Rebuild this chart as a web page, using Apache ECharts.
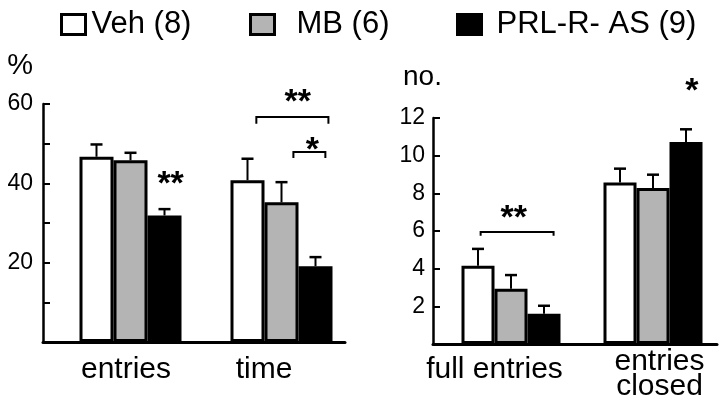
<!DOCTYPE html>
<html>
<head>
<meta charset="utf-8">
<script src="https://cdn.jsdelivr.net/npm/echarts@6/dist/echarts.min.js"></script>
<style>
  html, body { margin: 0; padding: 0; background: #fff; }
  #chart { width: 720px; height: 402px; }
</style>
</head>
<body>
<div id="chart"></div>
<script>
// ---------- data ----------
const legendNames = ['Veh (8)', 'MB (6)', 'PRL-R- AS (9)'];

const leftCategories = ['entries', 'time'];
const leftVeh = [46.7, 40.8];
const leftMB = [45.8, 35.2];
const leftPRL = [31.9, 19.1];
const leftVehSEM = [3.1, 5.4];
const leftMBSEM = [1.9, 5.1];
const leftPRLSEM = [1.6, 2.3];
const leftTicks = [0, 10, 20, 30, 40, 50, 60];
const leftTickLabels = ['', '', '20', '', '40', '', '60'];

const rightCategories = ['full entries', 'entries\nclosed'];
const rightVeh = [4.15, 8.58];
const rightMB = [2.93, 8.28];
const rightPRL = [1.6, 10.72];
const rightVehSEM = [0.9, 0.73];
const rightMBSEM = [0.73, 0.71];
const rightPRLSEM = [0.43, 0.68];
const rightTicks = [0, 2, 4, 6, 8, 10, 12];
const rightTickLabels = ['', '2', '4', '6', '8', '10', '12'];

// significance annotations: [category, fromBar, toBar, y, yEnd]
const leftBrackets = [[1, 0.76, 2.88, 56.7, 55.0], [1, 1.85, 2.79, 47.9, 46.4]];
const rightBrackets = [[0, 0.58, 2.79, 5.95, 5.75]];
// [category, bar position, y, text]
const leftStars = [[0, 2.68, 41.5, '**'], [1, 1.98, 62.2, '**'], [1, 2.41, 50.2, '*']];
const rightStars = [[0, 1.58, 7.06, '**'], [1, 2.68, 13.8, '*']];

// ---------- layout / style ----------
const FONT = '"Liberation Sans", Arial, Helvetica, sans-serif';
const colors = ['#ffffff', '#b4b4b4', '#000000'];
const panels = [
  { bw: 34, pad: 24 },
  { bw: 33, pad: 14 }
];
function barOffset(p, s) {
  const P = panels[p];
  const total = P.pad + 3 * P.bw;
  return -total / 2 + P.pad + P.bw * (s + 0.5);
}
function groupLeft(p) {
  const P = panels[p];
  return -(P.pad + 3 * P.bw) / 2 + P.pad;
}

function errData(vals, sems) {
  const out = [];
  vals.forEach((arr, s) => arr.forEach((v, c) => out.push([c, v + sems[s][c], s, v])));
  return out;
}

function errSeries(p, vals, sems) {
  return {
    type: 'custom', xAxisIndex: p, yAxisIndex: p, z: 5, silent: true,
    data: errData(vals, sems),
    encode: { x: 0, y: 1 },
    renderItem: function (params, api) {
      const c = api.value(0), top = api.value(1), s = api.value(2), v = api.value(3);
      const pt = api.coord([c, top]);
      const pb = api.coord([c, v]);
      const x = pt[0] + barOffset(p, s);
      return {
        type: 'group',
        children: [
          { type: 'line', shape: { x1: x, y1: pb[1], x2: x, y2: pt[1] }, style: { stroke: '#000', lineWidth: 2 } },
          { type: 'line', shape: { x1: x - 6, y1: pt[1], x2: x + 6, y2: pt[1] }, style: { stroke: '#000', lineWidth: 2.5 } }
        ]
      };
    }
  };
}

function bracketSeries(p, data) {
  return {
    type: 'custom', xAxisIndex: p, yAxisIndex: p, z: 6, silent: true, clip: false,
    data: data,
    encode: { x: 0, y: 3 },
    renderItem: function (params, api) {
      const c = api.value(0), a = api.value(1), b = api.value(2), y = api.value(3), ye = api.value(4);
      const p0 = api.coord([c, y]);
      const pe = api.coord([c, ye]);
      const bw = panels[p].bw;
      const x1 = p0[0] + groupLeft(p) + a * bw;
      const x2 = p0[0] + groupLeft(p) + b * bw;
      return {
        type: 'polyline',
        shape: { points: [[x1, pe[1]], [x1, p0[1]], [x2, p0[1]], [x2, pe[1]]] },
        style: { stroke: '#000', lineWidth: 2, fill: null }
      };
    }
  };
}

function starSeries(p, data) {
  return {
    type: 'custom', xAxisIndex: p, yAxisIndex: p, z: 6, silent: true, clip: false,
    data: data,
    encode: { x: 0, y: 2 },
    renderItem: function (params, api) {
      const d = data[params.dataIndex];
      const pt = api.coord([d[0], d[2]]);
      const x = pt[0] + groupLeft(p) + d[1] * panels[p].bw;
      const fs = 34;
      return {
        type: 'text',
        style: {
          x: x, y: pt[1] + fs * 0.22, text: d[3],
          font: 'bold ' + fs + 'px ' + FONT,
          fill: '#000', align: 'center', verticalAlign: 'middle'
        }
      };
    }
  };
}

function barSeries(p, name, data, s) {
  return {
    type: 'bar', name: name, xAxisIndex: p, yAxisIndex: p,
    data: data, barWidth: panels[p].bw, barGap: 0, z: 3,
    itemStyle: { color: colors[s], borderColor: '#000', borderWidth: 3 }
  };
}
function padSeries(p) {
  return {
    type: 'bar', name: '_pad' + p, xAxisIndex: p, yAxisIndex: p,
    data: [null, null], barWidth: panels[p].pad, barGap: 0, silent: true
  };
}

function yAxisCfg(grid, max, interval, ticks, labels, name, nameStyle, nameGap, margin) {
  return {
    gridIndex: grid, type: 'value', min: 0, max: max, interval: interval,
    name: name, nameLocation: 'end', nameGap: nameGap,
    nameTextStyle: nameStyle,
    axisLine: { show: true, lineStyle: { color: '#000', width: 2.5 } },
    axisTick: { show: true, inside: true, length: 7, lineStyle: { color: '#000', width: 2 } },
    splitLine: { show: false },
    axisLabel: {
      fontSize: 23, color: '#000', fontFamily: FONT, margin: margin,
      formatter: function (v) { const i = ticks.indexOf(v); return i >= 0 ? labels[i] : ''; }
    }
  };
}

function legendCfg(left, name, s, textPad) {
  return {
    left: left, top: 9, padding: 0, icon: 'rect',
    itemWidth: 24, itemHeight: 20, selectedMode: false,
    data: [{ name: name }],
    itemStyle: { borderColor: '#000', borderWidth: 3 },
    textStyle: { fontSize: 31, color: '#000', fontFamily: FONT, padding: [0, 0, 0, textPad] }
  };
}

const richLines = {
  l1: { fontSize: 30, fontFamily: FONT, color: '#000', lineHeight: 10 },
  l2: { fontSize: 30, fontFamily: FONT, color: '#000', lineHeight: 40 }
};

function catLabel(value, padding) {
  return {
    value: value,
    textStyle: { padding: padding, verticalAlign: 'top', align: 'center', fontSize: 30, lineHeight: 25, color: '#000', fontFamily: FONT, rich: richLines }
  };
}

function catFormatter(v) {
  const parts = String(v).split('\n');
  if (parts.length < 2) return v;
  return '{l1|' + parts[0] + '}\n{l2|' + parts[1] + '}';
}

const option = {
  animation: false,
  backgroundColor: '#ffffff',
  textStyle: { fontFamily: FONT, color: '#000' },
  legend: [
    legendCfg(60, legendNames[0], 0, 1),
    legendCfg(249, legendNames[1], 1, 17),
    legendCfg(456, legendNames[2], 2, 10)
  ],
  grid: [
    { left: 43, top: 104, width: 302, height: 238, outerBoundsMode: 'none', containLabel: false },
    { left: 433, top: 118, width: 284, height: 226, outerBoundsMode: 'none', containLabel: false }
  ],
  xAxis: [
    {
      gridIndex: 0, type: 'category',
      data: [
        catLabel(leftCategories[0], [0, 0, 0, 15]),
        catLabel(leftCategories[1], [0, 11, 0, 0])
      ],
      axisLine: { lineStyle: { color: '#000', width: 3 } },
      axisTick: { show: false },
      axisLabel: { interval: 0, fontSize: 30, color: '#000', fontFamily: FONT, margin: 15, lineHeight: 25 }
    },
    {
      gridIndex: 1, type: 'category',
      data: [
        catLabel(rightCategories[0], [0, 19, 0, 0]),
        catLabel(rightCategories[1], [0, 0, 0, 27])
      ],
      axisLine: { lineStyle: { color: '#000', width: 3 } },
      axisTick: { show: false },
      axisLabel: { interval: 0, fontSize: 30, color: '#000', fontFamily: FONT, margin: 13, lineHeight: 25, rich: richLines, formatter: catFormatter }
    }
  ],
  yAxis: [
    yAxisCfg(0, 60, 10, leftTicks, leftTickLabels, '%',
      { fontSize: 29, color: '#000', fontFamily: FONT, align: 'right', verticalAlign: 'middle', padding: [0, 10, 0, 0] }, 38, 10),
    yAxisCfg(1, 12, 2, rightTicks, rightTickLabels, 'no.',
      { fontSize: 28, color: '#000', fontFamily: FONT, align: 'center', verticalAlign: 'middle', padding: [0, 21, 0, 0] }, 41, 8)
  ],
  series: [
    padSeries(0),
    barSeries(0, legendNames[0], leftVeh, 0),
    barSeries(0, legendNames[1], leftMB, 1),
    barSeries(0, legendNames[2], leftPRL, 2),
    padSeries(1),
    barSeries(1, legendNames[0], rightVeh, 0),
    barSeries(1, legendNames[1], rightMB, 1),
    barSeries(1, legendNames[2], rightPRL, 2),
    errSeries(0, [leftVeh, leftMB, leftPRL], [leftVehSEM, leftMBSEM, leftPRLSEM]),
    errSeries(1, [rightVeh, rightMB, rightPRL], [rightVehSEM, rightMBSEM, rightPRLSEM]),
    bracketSeries(0, leftBrackets),
    bracketSeries(1, rightBrackets),
    starSeries(0, leftStars),
    starSeries(1, rightStars)
  ]
};

const chart = echarts.init(document.getElementById('chart'), null, { renderer: 'canvas' });
chart.setOption(option);
</script>
</body>
</html>
